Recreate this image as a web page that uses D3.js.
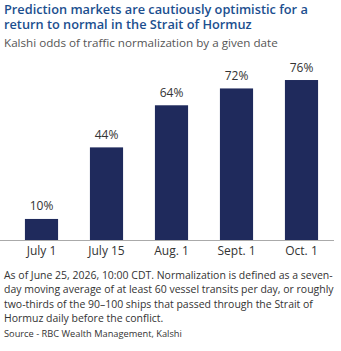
<!DOCTYPE html>
<html>
<head>
<meta charset="utf-8">
<script src="https://cdn.jsdelivr.net/npm/d3@7"></script>
<style>
  body { margin: 0; background: #fff; }
  svg text { font-family: "Open Sans", sans-serif; }
</style>
</head>
<body>
<div id="chart"></div>
<script>
// data
var dates = ["July 1", "July 15", "Aug. 1", "Sept. 1", "Oct. 1"];
var odds = [10, 44, 64, 72, 76];
var titleLines = ["Prediction markets are cautiously optimistic for a", "return to normal in the Strait of Hormuz"];
var subtitle = "Kalshi odds of traffic normalization by a given date";
var footLines = [
  "As of June 25, 2026, 10:00 CDT. Normalization is defined as a seven-",
  "day moving average of at least 60 vessel transits per day, or roughly",
  "two-thirds of the 90\u2013100 ships that passed through the Strait of",
  "Hormuz daily before the conflict."
];
var source = "Source - RBC Wealth Management, Kalshi";

var W = 341, H = 351;
var svg = d3.select("#chart").append("svg")
  .attr("width", W)
  .attr("height", H);

// scale the font so the first line gets the width seen in the picture
function fitWidth(sel, target) {
  var fs = parseFloat(sel.attr("font-size"));
  var node = sel.node();
  var first = node.querySelector("tspan") || node;
  var w = first.getComputedTextLength();
  sel.attr("font-size", (fs * target / w).toFixed(2) + "px");
}

// title (one text, two lines) + subtitle
var title = svg.append("text")
  .attr("font-size", "15px")
  .attr("font-weight", 600)
  .attr("fill", "#1c4f8f");
title.selectAll("tspan")
  .data(titleLines)
  .enter().append("tspan")
    .attr("x", 4)
    .attr("y", function(d, i){ return 13.5 + i * 15.2; })
    .text(function(d){ return d; });
fitWidth(title, 304);

var sub = svg.append("text")
  .attr("x", 4)
  .attr("y", 46.5)
  .attr("font-size", "12.5px")
  .attr("fill", "#555")
  .text(subtitle);
fitWidth(sub, 274);

// scales
var x = d3.scaleBand()
  .domain(dates)
  .range([9, 334])
  .paddingInner(0.49)
  .paddingOuter(0.245);

var y = d3.scaleLinear()
  .domain([0, 100])
  .range([240, 29.5]);

svg.selectAll("rect.bar")
  .data(odds)
  .enter().append("rect")
    .attr("class", "bar")
    .attr("x", function(d, i){ return x(dates[i]); })
    .attr("y", function(d){ return y(d); })
    .attr("width", x.bandwidth())
    .attr("height", function(d){ return y(0) - y(d); })
    .attr("fill", "#1f2a5c");

svg.selectAll("text.val")
  .data(odds)
  .enter().append("text")
    .attr("class", "val")
    .attr("x", function(d, i){ return x(dates[i]) + x.bandwidth() / 2; })
    .attr("y", function(d){ return y(d) - 8.5; })
    .attr("text-anchor", "middle")
    .attr("font-size", "12px")
    .attr("fill", "#333")
    .text(function(d){ return d + "%"; });

// x axis
var xAxis = svg.append("g")
  .attr("transform", "translate(0,240)")
  .call(d3.axisBottom(x).tickSize(0).tickPadding(6));
xAxis.select(".domain").remove();
xAxis.selectAll("text")
  .attr("font-size", "12px")
  .attr("fill", "#333")
  .style("font-family", "'Open Sans', sans-serif");

svg.append("line")
  .attr("x1", 0).attr("x2", 334)
  .attr("y1", 240.5).attr("y2", 240.5)
  .attr("stroke", "#aaa")
  .attr("stroke-width", 1);

// footnote
var foot = svg.append("text")
  .attr("font-size", "11.5px")
  .attr("fill", "#333");
foot.selectAll("tspan")
  .data(footLines)
  .enter().append("tspan")
    .attr("x", 4)
    .attr("y", function(d, i){ return 278.5 + i * 14.6; })
    .text(function(d){ return d; });
fitWidth(foot, 329);

var src = svg.append("text")
  .attr("x", 4)
  .attr("y", 336.5)
  .attr("font-size", "10px")
  .attr("fill", "#333")
  .text(source);
fitWidth(src, 178);
</script>
</body>
</html>
